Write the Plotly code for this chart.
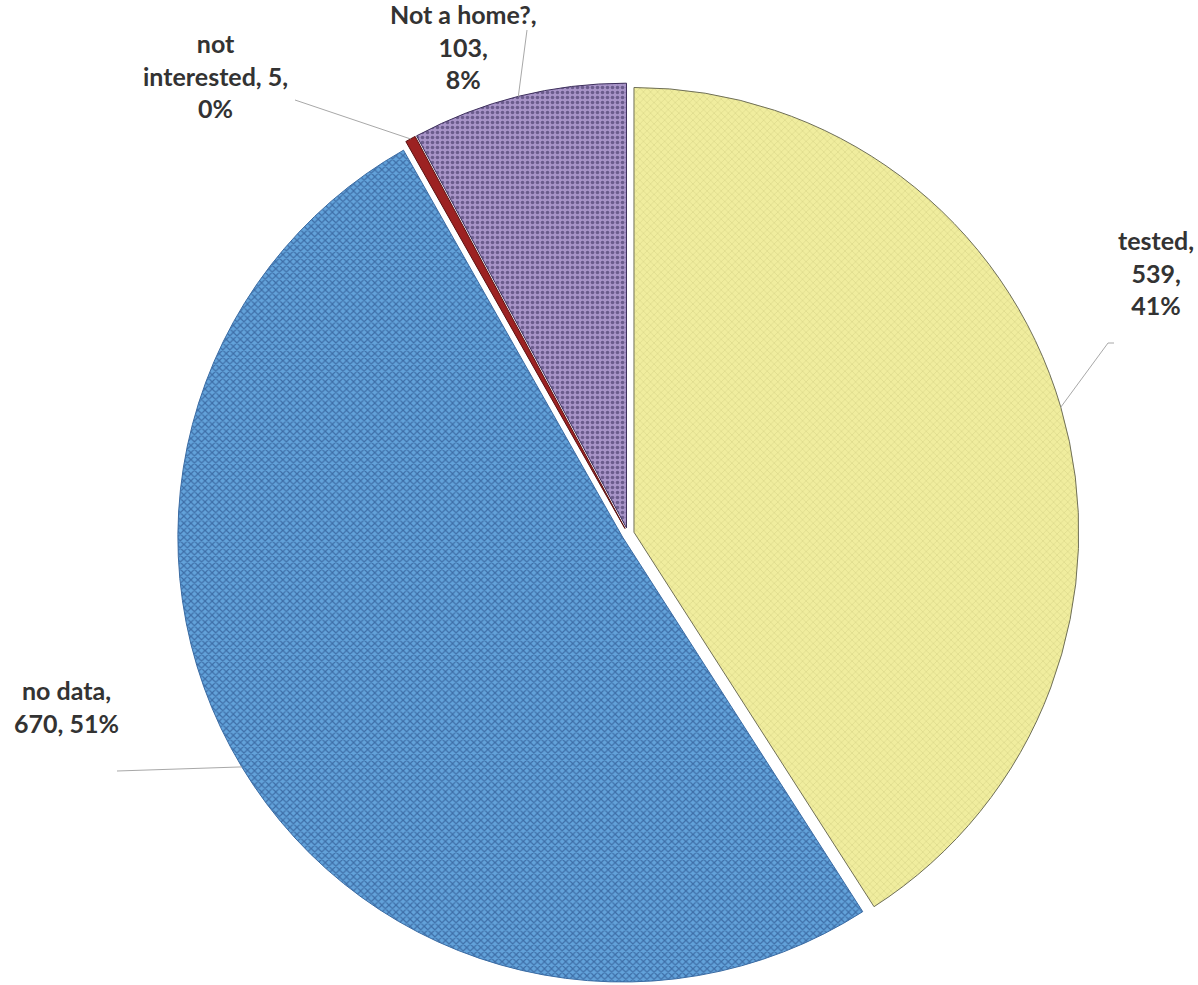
import math
import plotly.graph_objects as go

# Survey outcome counts
categories = ["tested", "no data", "not interested", "Not a home?"]
counts = [539, 670, 5, 103]
label_names = ["tested", "no data", "not<br>interested", "Not a home?"]
label_templates = [
    "{n},<br>{v},<br>{p}%",
    "{n},<br>{v}, {p}%",
    "{n}, {v},<br>{p}%",
    "{n},<br>{v},<br>{p}%",
]

# Slice styling
fill_colors = ["#F0ED9E", "#62A2DA", "#9C2222", "#A894C8"]
pattern_fg = ["#BDB86C", "#1A3A73", "#6E1414", "#2E2350"]
pattern_shape = ["x", "x", "", "."]
pattern_size = [5, 5, 4, 5]
pattern_solidity = [0.2, 0.42, 0.3, 0.42]
edge_colors = ["#6F6F58", "#3A6BA3", "#5A1010", "#3D2F5C"]

# Label anchor positions (pixels) and leader line start points
W, H = 1198, 985
label_pos = [(1156, 272), (66, 706), (215, 75), (463, 47)]
leader_start = [(1108, 343), (117, 771), (295, 100), (527, 30)]

PULL = 0.014
CX, CY = 628, 534           # pie centre in pixels
BOX = 451                   # half size of the pie box in pixels
R = BOX / (1 + PULL)

total = sum(counts)
pcts = [round(c / total * 100) for c in counts]


def px_to_paper(x, y):
    return x / W, 1 - y / H


fig = go.Figure(
    go.Pie(
        labels=categories,
        values=counts,
        sort=False,
        direction="clockwise",
        rotation=0,
        pull=[PULL] * len(counts),
        textinfo="none",
        hoverinfo="label+value+percent",
        marker=dict(
            colors=fill_colors,
            line=dict(color=edge_colors, width=1),
            pattern=dict(
                shape=pattern_shape,
                fgcolor=pattern_fg,
                size=pattern_size,
                solidity=pattern_solidity,
                fillmode="overlay",
            ),
        ),
        domain=dict(
            x=[(CX - BOX) / W, (CX + BOX) / W],
            y=[1 - (CY + BOX) / H, 1 - (CY - BOX) / H],
        ),
    )
)

annotations = []
shapes = []
cum = 0
for i, c in enumerate(counts):
    mid = (cum + c / 2) / total * 2 * math.pi
    cum += c
    dx, dy = math.sin(mid), -math.cos(mid)
    ox, oy = CX + PULL * R * dx, CY + PULL * R * dy
    ex, ey = ox + R * dx, oy + R * dy

    text = label_templates[i].format(n=label_names[i], v=c, p=pcts[i])
    ax, ay = px_to_paper(*label_pos[i])
    annotations.append(dict(
        x=ax, y=ay, xref="paper", yref="paper", text="<b>" + text + "</b>",
        showarrow=False, xanchor="center", yanchor="middle", align="center",
        font=dict(family="Lato", size=25, color="#333333"),
    ))

    sx, sy = leader_start[i]
    x0, y0 = px_to_paper(sx, sy)
    x1, y1 = px_to_paper(ex, ey)
    shapes.append(dict(type="line", xref="paper", yref="paper",
                       x0=x0, y0=y0, x1=x1, y1=y1,
                       line=dict(color="#A8A8A8", width=1)))
    if i == 0:
        hx, hy = px_to_paper(sx + 6, sy)
        shapes.append(dict(type="line", xref="paper", yref="paper",
                           x0=x0, y0=y0, x1=hx, y1=hy,
                           line=dict(color="#A8A8A8", width=1)))

fig.update_layout(
    width=W, height=H,
    margin=dict(l=0, r=0, t=0, b=0),
    paper_bgcolor="white", plot_bgcolor="white",
    showlegend=False,
    annotations=annotations,
    shapes=shapes,
)

fig.write_html("out.html")
